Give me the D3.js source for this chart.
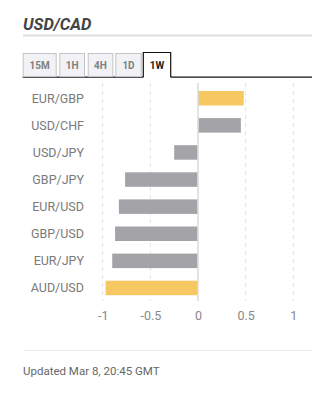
<!DOCTYPE html>
<html><head><meta charset="utf-8">
<script src="https://cdn.jsdelivr.net/npm/d3@7"></script>
<style>
html,body{margin:0;padding:0;background:#fff;}
svg{display:block;font-family:Roboto,"Noto Sans",sans-serif;}
</style></head>
<body>
<svg id="c" width="325" height="394"></svg>
<script>
const title = "USD/CAD";
const tabs = ["15M","1H","4H","1D","1W"];
const activeTab = "1W";
const pairs = ["EUR/GBP","USD/CHF","USD/JPY","GBP/JPY","EUR/USD","GBP/USD","EUR/JPY","AUD/USD"];
const values = [0.48,0.45,-0.25,-0.765,-0.83,-0.87,-0.90,-0.97];
const highlighted = ["EUR/GBP","AUD/USD"];
const xTicks = [-1,-0.5,0,0.5,1];
const footer = "Updated Mar 8, 20:45 GMT";

const svg = d3.select("#c");

// title
svg.append("text").attr("x",23).attr("y",30).text(title)
  .attr("font-size",16.5).attr("font-weight",700).attr("font-style","italic").attr("fill","#444");
svg.append("line").attr("x1",23).attr("x2",312).attr("y1",35.5).attr("y2",35.5)
  .attr("stroke","#dedede").attr("stroke-width",2);

// tabs
const tabX = [22.7,59.3,87.7,115.3,143.3];
const tabW = [34,25.7,25.6,26.4,27.4];
const tabBottom = 77.2;
svg.append("line").attr("x1",22.7).attr("x2",312).attr("y1",tabBottom).attr("y2",tabBottom)
  .attr("stroke","#111").attr("stroke-width",1.2);
tabs.forEach((t,i)=>{
  const act = t===activeTab;
  const g = svg.append("g");
  if(act){
    g.append("rect").attr("x",tabX[i]).attr("y",52.5).attr("width",tabW[i]).attr("height",tabBottom-52.5+1)
      .attr("fill","#fff");
    g.append("path").attr("d",`M${tabX[i]},${tabBottom}V52.5H${tabX[i]+tabW[i]}V${tabBottom}`)
      .attr("fill","none").attr("stroke","#111").attr("stroke-width",1.2);
  } else {
    g.append("rect").attr("x",tabX[i]+0.5).attr("y",53.5).attr("width",tabW[i]-1).attr("height",tabBottom-53.5-0.6)
      .attr("fill","#f2f2f6").attr("stroke","#c4c4c8").attr("stroke-width",1);
  }
  g.append("text").attr("x",tabX[i]+tabW[i]/2).attr("y",69).attr("text-anchor","middle")
    .attr("font-size",10).attr("font-weight",700).attr("fill",act?"#222":"#808080").text(t);
});

// chart
const x = d3.scaleLinear().domain([-1,1]).range([102.7,293.3]);
const y = d3.scaleBand().domain(pairs).range([78.4,307.8]).paddingInner(0.465).paddingOuter(0.465);

// grid
svg.append("g").selectAll("line").data(xTicks.filter(d=>d!==0)).join("line")
  .attr("x1",d=>x(d)).attr("x2",d=>x(d)).attr("y1",83).attr("y2",301)
  .attr("stroke","#e2e2e2").attr("stroke-width",1).attr("stroke-dasharray","4,4");

// bars
svg.append("g").selectAll("rect").data(pairs).join("rect")
  .attr("x",(d,i)=>x(Math.min(0,values[i])))
  .attr("width",(d,i)=>Math.abs(x(values[i])-x(0)))
  .attr("y",d=>y(d)).attr("height",y.bandwidth())
  .attr("fill",d=>highlighted.includes(d)?"#f5c862":"#a4a3a8");

// zero line
svg.append("line").attr("x1",x(0)).attr("x2",x(0)).attr("y1",83).attr("y2",301)
  .attr("stroke","#dcdcdc").attr("stroke-width",1.6);

// y labels
svg.append("g").selectAll("text").data(pairs).join("text")
  .attr("x",84).attr("y",d=>y(d)+y.bandwidth()/2).attr("dy","0.35em")
  .attr("text-anchor","end").attr("font-size",12.5).attr("fill","#7a7a7a").text(d=>d);

// x tick labels
const xAxis = d3.axisBottom(x).tickValues(xTicks).tickSize(0).tickFormat(d3.format("~g"));
const ax = svg.append("g").attr("transform","translate(0,308)").call(xAxis);
ax.select(".domain").remove();
ax.selectAll("text").attr("font-size",12.5).attr("fill","#888").attr("font-family","Roboto,sans-serif")
  .attr("dy","0.71em").text(d=>d<0?"-"+Math.abs(d):String(d));

// footer
svg.append("line").attr("x1",23).attr("x2",312).attr("y1",350.5).attr("y2",350.5)
  .attr("stroke","#ececf0").attr("stroke-width",1);
svg.append("text").attr("x",23).attr("y",375).attr("font-size",11.5).attr("fill","#666").text(footer);
</script>
</body></html>
